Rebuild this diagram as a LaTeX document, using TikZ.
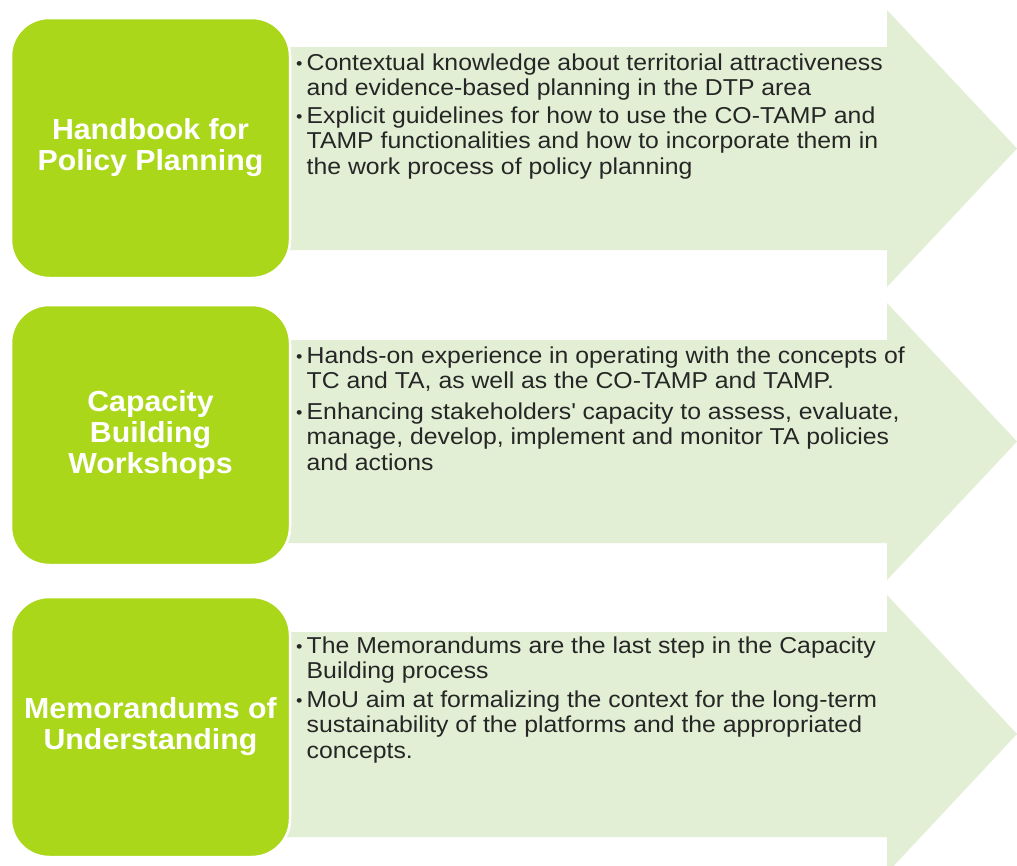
\documentclass[tikz,border=0pt]{standalone}
\usepackage{fontspec}
\setmainfont{Liberation Sans}
\newfontfamily\bodyfont[FakeStretch=1.078]{Liberation Sans}
\newfontfamily\titlefont[FakeStretch=1.045]{Liberation Sans Bold}
\definecolor{boxgreen}{HTML}{ABD71A}
\definecolor{arrowgreen}{HTML}{E2EFD4}
\definecolor{txt}{HTML}{262626}
\newcommand{\bul}[1]{\makebox[10.5pt][l]{\raisebox{1pt}{\fontsize{17}{17}\selectfont\textbullet}}\parbox[t]{680pt}{\raggedright #1}}
\tikzset{
  box/.style={fill=boxgreen, draw=white, line width=2.5pt, rounded corners=38pt,
    minimum width=279pt, minimum height=260pt, inner sep=0pt, align=center,
    text=white, font=\titlefont\fontsize{29}{31}\selectfont},
  bigarrow/.style={fill=arrowgreen, draw=none},
  bullets/.style={anchor=base west, inner sep=0pt,
    text=txt, font=\bodyfont\fontsize{23}{25.8}\selectfont}
}
\begin{document}
\begin{tikzpicture}[x=1pt, y=-1pt]
\useasboundingbox (0,0) rectangle (1017,865);
\clip (0,0) rectangle (1017,865);
\fill[white] (0,0) rectangle (1017,865);
% arrows
\fill[bigarrow] (285,47) -- (887,47) -- (887,10) -- (1017,148.5) -- (887,287) -- (887,250) -- (285,250) -- cycle;
\fill[bigarrow] (285,340) -- (887,340) -- (887,303) -- (1017,441.5) -- (887,580) -- (887,543) -- (285,543) -- cycle;
\fill[bigarrow] (285,632) -- (887,632) -- (887,595) -- (1017,734) -- (887,873) -- (887,837) -- (285,837) -- cycle;
% boxes
\node[box] (b1) at (150.5,148) {Handbook for\\Policy Planning};
\node[box] (b2) at (150.5,435) {Capacity\\Building\\Workshops};
\node[box] (b3) at (150.5,727) {Memorandums of\\Understanding};
% bullet texts
\node[bullets] (t1a) at (296,70) {\bul{Contextual knowledge about territorial attractiveness\\and evidence-based planning in the DTP area}};
\node[bullets] (t1b) at (296,123) {\bul{Explicit guidelines for how to use the CO-TAMP and\\TAMP functionalities and how to incorporate them in\\the work process of policy planning}};
\node[bullets] (t2a) at (296,363) {\bul{Hands-on experience in operating with the concepts of\\TC and TA, as well as the CO-TAMP and TAMP.}};
\node[bullets] (t2b) at (296,419) {\bul{Enhancing stakeholders\textquotesingle\ capacity to assess, evaluate,\\manage, develop, implement and monitor TA policies\\and actions}};
\node[bullets] (t3a) at (296,653) {\bul{The Memorandums are the last step in the Capacity\\Building process}};
\node[bullets] (t3b) at (296,707) {\bul{MoU aim at formalizing the context for the long-term\\sustainability of the platforms and the appropriated\\concepts.}};
\end{tikzpicture}
\end{document}
